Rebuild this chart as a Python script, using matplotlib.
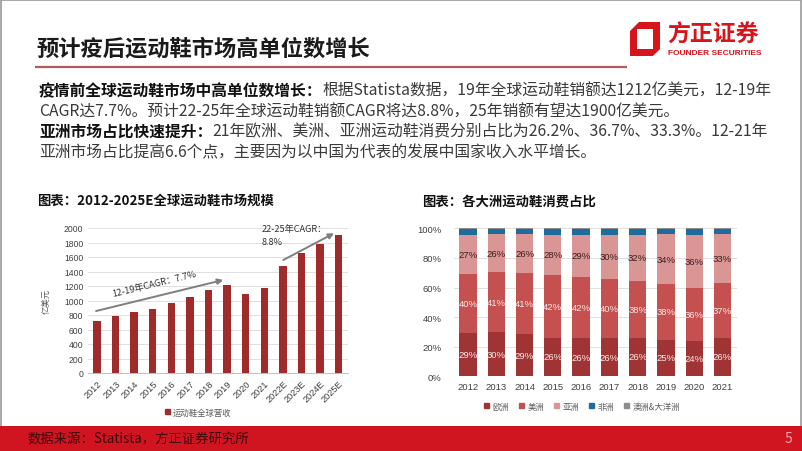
import matplotlib
matplotlib.use('Agg')
import matplotlib.pyplot as plt
from matplotlib.patches import Rectangle, Polygon, Patch
import numpy as np

plt.rcParams['font.family'] = ['Noto Sans CJK SC', 'DejaVu Sans']

# ---------------- data ----------------
years_left = ['2012', '2013', '2014', '2015', '2016', '2017', '2018', '2019',
              '2020', '2021', '2022E', '2023E', '2024E', '2025E']
market = [720, 780, 845, 880, 965, 1050, 1145, 1212, 1095, 1170, 1480, 1660, 1780, 1900]
left_legend = '运动鞋全球营收'

years_right = ['2012', '2013', '2014', '2015', '2016', '2017', '2018', '2019', '2020', '2021']
europe = [29.2, 29.6, 28.7, 26.2, 25.6, 25.8, 26.1, 24.8, 23.6, 26.2]
america = [39.8, 40.6, 41.0, 42.0, 41.6, 40.2, 38.0, 37.6, 36.4, 36.7]
asia = [26.8, 25.7, 26.2, 27.6, 28.6, 29.8, 31.7, 33.5, 35.8, 33.3]
africa = [3.7, 3.6, 3.6, 3.7, 3.7, 3.7, 3.7, 3.6, 3.7, 3.4]
oceania = [0.5, 0.5, 0.5, 0.5, 0.5, 0.5, 0.5, 0.5, 0.5, 0.4]
region_names = ['欧洲', '美洲', '亚洲', '非洲', '澳洲&大洋洲']

# ---------------- figure ----------------
W, H = 802, 452
fig = plt.figure(figsize=(W / 100, H / 100), dpi=100)

bg = fig.add_axes([0, 0, 1, 1], zorder=0)
bg.set_xlim(0, W)
bg.set_ylim(H, 0)
bg.axis('off')

def fx(x):
    return x / W

def fy(y):
    return 1 - y / H

# border
bg.add_patch(Rectangle((0.6, 0.6), W - 1.2, H - 1.2, fill=False, ec='#9a9a9a', lw=1.2))

# header
bg.text(36, 49, '预计疫后运动鞋市场高单位数增长', fontsize=16, fontweight='bold',
        va='center', ha='left', color='#1a1a1a')
bg.plot([35, 627], [67.5, 67.5], color='#b35a5b', lw=1.6, solid_capstyle='butt')

# logo
red = '#d7141a'
bg.add_patch(Polygon([(639, 23), (660, 23), (660, 50), (653, 57), (630, 57), (630, 32)],
                     closed=True, fc=red, ec='none'))
bg.add_patch(Rectangle((637, 30), 16, 20, fc='white', ec='none'))
bg.text(667, 35, '方正证券', fontsize=16.5, fontweight='bold', color=red, va='center', ha='left')
bg.text(667.5, 53.5, 'FOUNDER SECURITIES', fontsize=6.0, fontweight='bold', color=red,
        va='center', ha='left', family=['Liberation Sans', 'DejaVu Sans'])

# body text
fs_body = 11.35
body_col = '#3a3a3a'
bold_col = '#111111'
lines = [
    ('疫情前全球运动鞋市场中高单位数增长：', '根据Statista数据，19年全球运动鞋销额达1212亿美元，12-19年', 91),
    ('', 'CAGR达7.7%。预计22-25年全球运动鞋销额CAGR将达8.8%，25年销额有望达1900亿美元。', 112),
    ('亚洲市场占比快速提升：', '21年欧洲、美洲、亚洲运动鞋消费分别占比为26.2%、36.7%、33.3%。12-21年', 132),
    ('', '亚洲市场占比提高6.6个点，主要因为以中国为代表的发展中国家收入水平增长。', 153),
]
for b, r, y in lines:
    if b:
        t = bg.text(39, y, b, fontsize=fs_body, fontweight='bold', color=bold_col,
                    va='center', ha='left')
        bg.annotate(r, xy=(1, y), xycoords=(t, 'data'), fontsize=fs_body, color=body_col,
                    va='center', ha='left')
    else:
        bg.text(39, y, r, fontsize=fs_body, color=body_col, va='center', ha='left')

# chart titles
bg.text(37, 201, '图表：2012-2025E全球运动鞋市场规模', fontsize=9.6, fontweight='bold',
        color='#111111', va='center', ha='left')
bg.text(422, 201, '图表：各大洲运动鞋消费占比', fontsize=9.6, fontweight='bold',
        color='#111111', va='center', ha='left')

# footer
bg.add_patch(Rectangle((0, 427), W, H - 427, fc='#d01420', ec='none'))
bg.text(28, 439, '数据来源：Statista，方正证券研究所', fontsize=9.6, style='italic',
        color='#3c0a0e', va='center', ha='left')
bg.text(788, 439, '5', fontsize=10, color='#f2a7a7', va='center', ha='center')

# ---------------- left chart ----------------
axL = fig.add_axes([fx(87.7), fy(374), (348 - 87.7) / W, (374 - 229) / H], zorder=2)
axL.set_facecolor('none')
xL = np.arange(len(years_left))
bar_red = '#a02b2b'
axL.bar(xL, market, width=0.4, color=bar_red, zorder=3)
axL.set_xlim(-0.5, len(years_left) - 0.5)
axL.set_ylim(0, 2000)
axL.set_yticks(np.arange(0, 2001, 200))
axL.yaxis.grid(True, color='#d9d9d9', lw=0.6)
axL.set_axisbelow(True)
for s in ['top', 'right', 'left']:
    axL.spines[s].set_visible(False)
axL.spines['bottom'].set_color('#bfbfbf')
axL.spines['bottom'].set_linewidth(0.7)
axL.tick_params(axis='both', length=0, labelsize=6.2, colors='#404040', pad=3)
axL.set_xticks(xL)
axL.set_xticklabels(years_left, rotation=45, ha='right', rotation_mode='anchor', fontsize=6.6)
axL.tick_params(axis='x', pad=4)
axL.set_ylabel('亿美元', fontsize=6, color='#595959', labelpad=10)

arrow_kw = dict(arrowstyle='-|>', color='#7f7f7f', lw=1.4, mutation_scale=8,
                shrinkA=0, shrinkB=0)
axL.annotate('', xy=(6.79, 1283), xytext=(-0.05, 855), arrowprops=arrow_kw, zorder=5)
axL.annotate('', xy=(12.75, 1927), xytext=(10.02, 1559), arrowprops=arrow_kw,
             annotation_clip=False, zorder=5)
axL.text(3.07, 1240, '12-19年CAGR：7.7%', fontsize=6.6, color='#333333', rotation=13.7,
         ha='center', va='center', rotation_mode='anchor')
axL.text(8.86, 1996, '22-25年CAGR：', fontsize=6.6, color='#333333', ha='left', va='center')
axL.text(8.86, 1817, '8.8%', fontsize=6.6, color='#333333', ha='left', va='center')

fig.legend(handles=[Patch(color=bar_red, label=left_legend)], loc='center',
           bbox_to_anchor=(fx(198), fy(413)), frameon=False, fontsize=6,
           handlelength=0.6, handleheight=0.6, handletextpad=0.3, labelcolor='#595959')

# ---------------- right chart ----------------
axR = fig.add_axes([fx(453.9), fy(377.3), (736.6 - 453.9) / W, (377.3 - 229.3) / H], zorder=2)
axR.set_facecolor('none')
xR = np.arange(len(years_right))
colors = ['#a03434', '#c4504f', '#da9695', '#1f6c9c', '#8c8c8c']
series = [europe, america, asia, africa, oceania]
bottom = np.zeros(len(years_right))
for vals, col, name in zip(series, colors, region_names):
    vals = np.array(vals)
    axR.bar(xR, vals, width=0.61, bottom=bottom, color=col, label=name, zorder=3)
    bottom = bottom + vals

# data labels
b0 = np.zeros(len(years_right))
label_cols = ['#fbe9e9', '#fbe9e9', '#3b1c1c']
for vals, lc in zip(series[:3], label_cols):
    vals = np.array(vals)
    for i, v in enumerate(vals):
        axR.text(xR[i], b0[i] + v / 2, f'{round(v):.0f}%', ha='center', va='center',
                 fontsize=6.8, color=lc, zorder=4, family=['Liberation Sans', 'DejaVu Sans'])
    b0 = b0 + vals

axR.set_xlim(-0.5, len(years_right) - 0.5)
axR.set_ylim(0, 100)
axR.set_yticks(np.arange(0, 101, 20))
axR.set_yticklabels([f'{v}%' for v in range(0, 101, 20)])
axR.yaxis.grid(True, color='#d9d9d9', lw=0.6)
axR.set_axisbelow(True)
for s in ['top', 'right', 'left', 'bottom']:
    axR.spines[s].set_visible(False)
axR.set_xticks(xR)
axR.set_xticklabels(years_right)
axR.tick_params(axis='both', length=0, labelsize=6.8, colors='#404040')
axR.tick_params(axis='y', pad=9)
axR.tick_params(axis='x', pad=4)
for lab in axR.get_xticklabels() + axR.get_yticklabels():
    lab.set_family(['Liberation Sans', 'DejaVu Sans'])
for lab in axL.get_xticklabels() + axL.get_yticklabels():
    lab.set_family(['Liberation Sans', 'DejaVu Sans'])

handles = [Patch(color=c, label=n) for c, n in zip(colors, region_names)]
fig.legend(handles=handles, loc='center', ncol=5, bbox_to_anchor=(fx(582), fy(407)),
           frameon=False, fontsize=6, handlelength=0.6, handleheight=0.6,
           handletextpad=0.4, columnspacing=1.2, labelcolor='#595959')

fig.savefig('out.png', dpi=100)
